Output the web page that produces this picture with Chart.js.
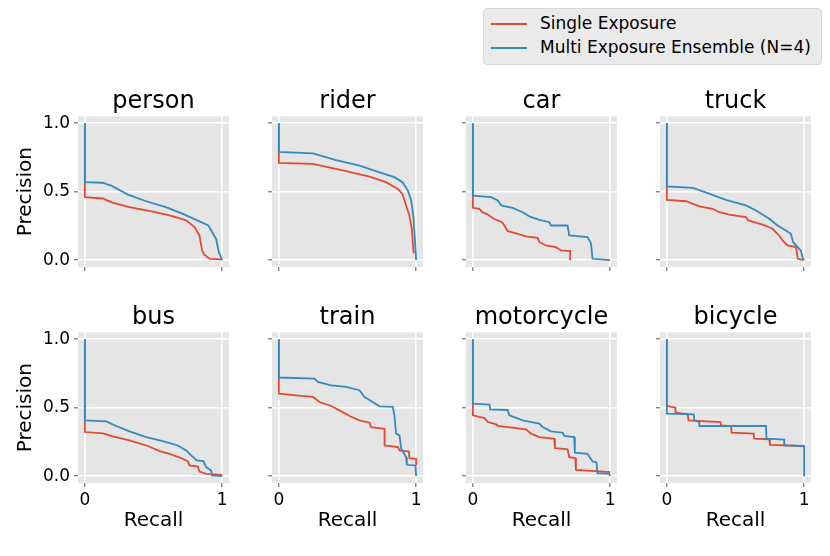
<!DOCTYPE html>
<html>
<head>
<meta charset="utf-8">
<script src="https://cdn.jsdelivr.net/npm/chart.js@4/dist/chart.umd.min.js"></script>
<style>
  body { margin: 0; background: #fff; width: 830px; height: 556px; position: relative; overflow: hidden; font-family: "DejaVu Sans", sans-serif; }
  canvas { position: absolute; }
  #legend { position: absolute; left: 483px; top: 8px; width: 337px; height: 55px; background: #eaeaea; border: 1px solid #d8d8d8; border-radius: 4px; }
  #legend .ln { position: absolute; left: 7px; width: 36px; height: 0; border-top: 2px solid; }
  #legend .tx { position: absolute; left: 56px; font-size: 17px; line-height: 20px; color: #000; white-space: nowrap; }
</style>
</head>
<body>
<div id="legend">
  <div class="ln" style="top:14px;border-color:#E24A33"></div>
  <div class="tx" style="top:4px">Single Exposure</div>
  <div class="ln" style="top:38px;border-color:#348ABD"></div>
  <div class="tx" style="top:28px">Multi Exposure Ensemble (N=4)</div>
</div>
<script>
// ---- data: [recall, precision] ----
const classNames = ['person', 'rider', 'car', 'truck', 'bus', 'train', 'motorcycle', 'bicycle']
const seriesNames = ['Single Exposure', 'Multi Exposure Ensemble (N=4)']
const yTicks = [0, 0.5, 1]
const yTickLabels = ['0.0', '0.5', '1.0']
const xTicks = [0, 1]
const xTickLabels = ['0', '1']

const personSingle = [[0,1],[0,0.46],[0.13,0.45],[0.2,0.42],[0.325,0.387],[0.495,0.355],[0.617,0.326],[0.738,0.29],[0.8,0.24],[0.835,0.18],[0.854,0.07],[0.87,0.04],[0.91,0.01],[1,0.005]]
const personMulti = [[0,1],[0,0.57],[0.13,0.565],[0.2,0.54],[0.31,0.48],[0.447,0.43],[0.59,0.387],[0.714,0.338],[0.81,0.294],[0.9,0.253],[0.93,0.2],[0.956,0.156],[0.976,0.058],[1,0]]
const riderSingle = [[0,1],[0,0.71],[0.248,0.703],[0.49,0.65],[0.66,0.61],[0.78,0.569],[0.867,0.52],[0.9,0.484],[0.927,0.399],[0.951,0.326],[0.97,0.217],[0.98,0.07],[0.985,0.05]]
const riderMulti = [[0,1],[0,0.79],[0.248,0.78],[0.417,0.73],[0.587,0.69],[0.733,0.64],[0.842,0.606],[0.9,0.569],[0.94,0.508],[0.964,0.435],[0.98,0.314],[0.99,0.168],[1,0]]
const carSingle = [[0,1],[0,0.382],[0.048,0.375],[0.068,0.35],[0.109,0.333],[0.153,0.302],[0.213,0.277],[0.23,0.253],[0.254,0.212],[0.327,0.192],[0.387,0.173],[0.472,0.163],[0.484,0.131],[0.533,0.107],[0.605,0.095],[0.642,0.071],[0.709,0.066],[0.709,0]]
const carMulti = [[0,1],[0,0.47],[0.133,0.46],[0.182,0.435],[0.206,0.4],[0.29,0.382],[0.363,0.35],[0.412,0.319],[0.484,0.294],[0.557,0.277],[0.569,0.253],[0.69,0.253],[0.702,0.18],[0.835,0.168],[0.86,0.124],[0.872,0.01],[1,0]]
const truckSingle = [[0,1],[0,0.44],[0.14,0.43],[0.237,0.392],[0.334,0.375],[0.383,0.35],[0.455,0.333],[0.576,0.314],[0.593,0.29],[0.697,0.26],[0.77,0.229],[0.818,0.18],[0.843,0.144],[0.879,0.107],[0.94,0.095],[0.954,0.01],[0.993,0]]
const truckMulti = [[0,1],[0,0.538],[0.189,0.528],[0.298,0.489],[0.43,0.44],[0.576,0.4],[0.649,0.363],[0.746,0.302],[0.806,0.253],[0.867,0.217],[0.903,0.192],[0.92,0.131],[0.952,0.095],[0.976,0.07],[0.988,0.022],[1,0]]
const busSingle = [[0,1],[0,0.322],[0.131,0.312],[0.204,0.29],[0.325,0.261],[0.459,0.22],[0.544,0.183],[0.617,0.163],[0.714,0.127],[0.75,0.107],[0.762,0.078],[0.823,0.07],[0.835,0.034],[0.883,0.017],[1,0.01]]
const busMulti = [[0,1],[0,0.407],[0.155,0.4],[0.228,0.366],[0.325,0.327],[0.447,0.285],[0.568,0.256],[0.677,0.224],[0.738,0.188],[0.774,0.151],[0.816,0.115],[0.864,0.11],[0.883,0.066],[0.92,0.041],[0.927,0.005],[1,0]]
const trainSingle = [[0,1],[0,0.602],[0.126,0.59],[0.248,0.578],[0.296,0.541],[0.381,0.512],[0.454,0.473],[0.515,0.439],[0.587,0.407],[0.66,0.39],[0.672,0.358],[0.77,0.346],[0.77,0.224],[0.867,0.212],[0.879,0.188],[0.947,0.18],[0.951,0.132],[1,0.127],[1,0.08]]
const trainMulti = [[0,1],[0,0.72],[0.26,0.712],[0.284,0.688],[0.381,0.663],[0.49,0.651],[0.587,0.627],[0.624,0.578],[0.684,0.541],[0.733,0.51],[0.83,0.505],[0.842,0.444],[0.854,0.31],[0.879,0.298],[0.891,0.2],[0.927,0.139],[0.932,0.083],[0.995,0.078],[1,0]]
const motorcycleSingle = [[0,1],[0,0.444],[0.085,0.424],[0.109,0.395],[0.17,0.378],[0.182,0.366],[0.387,0.341],[0.424,0.31],[0.484,0.285],[0.593,0.273],[0.598,0.205],[0.69,0.195],[0.702,0.139],[0.746,0.132],[0.751,0.046],[0.896,0.037],[1,0.03]]
const motorcycleMulti = [[0,1],[0,0.529],[0.121,0.522],[0.126,0.488],[0.254,0.483],[0.266,0.444],[0.363,0.407],[0.484,0.383],[0.508,0.359],[0.569,0.327],[0.654,0.317],[0.666,0.293],[0.738,0.285],[0.743,0.171],[0.835,0.163],[0.872,0.107],[0.9,0.102],[0.908,0.022],[0.993,0.017],[1,0]]
const bicycleSingle = [[0,1],[0,0.512],[0.063,0.5],[0.063,0.463],[0.153,0.451],[0.157,0.407],[0.39,0.395],[0.395,0.371],[0.467,0.366],[0.472,0.317],[0.632,0.31],[0.637,0.273],[0.746,0.268],[0.751,0.229],[1,0.22]]
const bicycleMulti = [[0,1],[0,0.456],[0.196,0.451],[0.2,0.407],[0.237,0.395],[0.237,0.366],[0.722,0.366],[0.726,0.273],[0.855,0.266],[0.855,0.224],[1,0.22],[1,0]]

const singleCurves = [personSingle, riderSingle, carSingle, truckSingle, busSingle, trainSingle, motorcycleSingle, bicycleSingle]
const multiCurves = [personMulti, riderMulti, carMulti, truckMulti, busMulti, trainMulti, motorcycleMulti, bicycleMulti]

const RED = '#E24A33'
const BLUE = '#348ABD'
const FONT = '"DejaVu Sans", sans-serif'

// grey panel background, like ggplot style
const panelBg = {
    id: 'panelBg',
    beforeDraw(chart) {
        const a = chart.chartArea
        const ctx = chart.ctx
        ctx.save()
        ctx.fillStyle = '#E5E5E5'
        ctx.fillRect(a.left, a.top, a.right - a.left, a.bottom - a.top)
        ctx.restore()
    }
}

function toPoints(curve) {
    return curve.map(p => ({ x: p[0], y: p[1] }))
}

function createPanel(index) {
    const row = Math.floor(index / 4)
    const col = index % 4
    const areaLeft = 78.4 + 194 * col
    const areaTop = 115.9 + 216.3 * row

    const canvas = document.createElement('canvas')
    canvas.width = 240
    canvas.height = 244
    canvas.style.width = '240px'
    canvas.style.height = '244px'
    canvas.style.left = (areaLeft - 78) + 'px'
    canvas.style.top = (areaTop - 35.3) + 'px'
    document.body.appendChild(canvas)

    return new Chart(canvas, {
        type: 'line',
        data: {
            datasets: [
                {
                    label: seriesNames[0],
                    data: toPoints(singleCurves[index]),
                    borderColor: RED,
                    borderWidth: 1.8,
                    pointRadius: 0,
                    tension: 0,
                    order: 1
                },
                {
                    label: seriesNames[1],
                    data: toPoints(multiCurves[index]),
                    borderColor: BLUE,
                    borderWidth: 1.8,
                    pointRadius: 0,
                    tension: 0,
                    order: 0
                }
            ]
        },
        options: {
            responsive: false,
            animation: false,
            devicePixelRatio: 1,
            layout: { padding: { left: 0, top: 0, right: 11, bottom: 2 } },
            plugins: {
                legend: { display: false },
                tooltip: { enabled: false },
                title: {
                    display: true,
                    text: classNames[index],
                    fullSize: false,
                    color: '#000',
                    font: { family: FONT, size: 24, weight: 'normal' },
                    padding: { top: 6, bottom: 0.5 }
                }
            },
            scales: {
                x: {
                    type: 'linear',
                    min: -0.05,
                    max: 1.05,
                    afterBuildTicks: s => { s.ticks = xTicks.map(v => ({ value: v })) },
                    afterFit: s => { s.height = 56 },
                    border: { display: false },
                    grid: { color: '#fff', lineWidth: 1.6, tickColor: '#555', tickLength: 4, tickWidth: 1 },
                    ticks: {
                        autoSkip: false,
                        padding: 3,
                        color: '#000',
                        font: { family: FONT, size: 17 },
                        callback: (v, i) => row === 1 ? xTickLabels[i] : ''
                    },
                    title: {
                        display: row === 1,
                        text: 'Recall',
                        color: '#000',
                        font: { family: FONT, size: 20 },
                        padding: { top: 0, bottom: 6 }
                    }
                },
                y: {
                    type: 'linear',
                    min: -0.05,
                    max: 1.05,
                    afterBuildTicks: s => { s.ticks = yTicks.map(v => ({ value: v })) },
                    afterFit: s => { s.width = 78 },
                    border: { display: false },
                    grid: { color: '#fff', lineWidth: 1.6, tickColor: '#555', tickLength: 4, tickWidth: 1 },
                    ticks: {
                        autoSkip: false,
                        padding: 4,
                        color: '#000',
                        font: { family: FONT, size: 17 },
                        callback: (v, i) => col === 0 ? yTickLabels[i] : ''
                    },
                    title: {
                        display: col === 0,
                        text: 'Precision',
                        color: '#000',
                        font: { family: FONT, size: 20 },
                        padding: { top: 14, bottom: 0 }
                    }
                }
            }
        },
        plugins: [panelBg]
    })
}

let charts = []
for (let index = 0; index < classNames.length; index++) {
    charts.push(createPanel(index))
}
</script>
</body>
</html>
